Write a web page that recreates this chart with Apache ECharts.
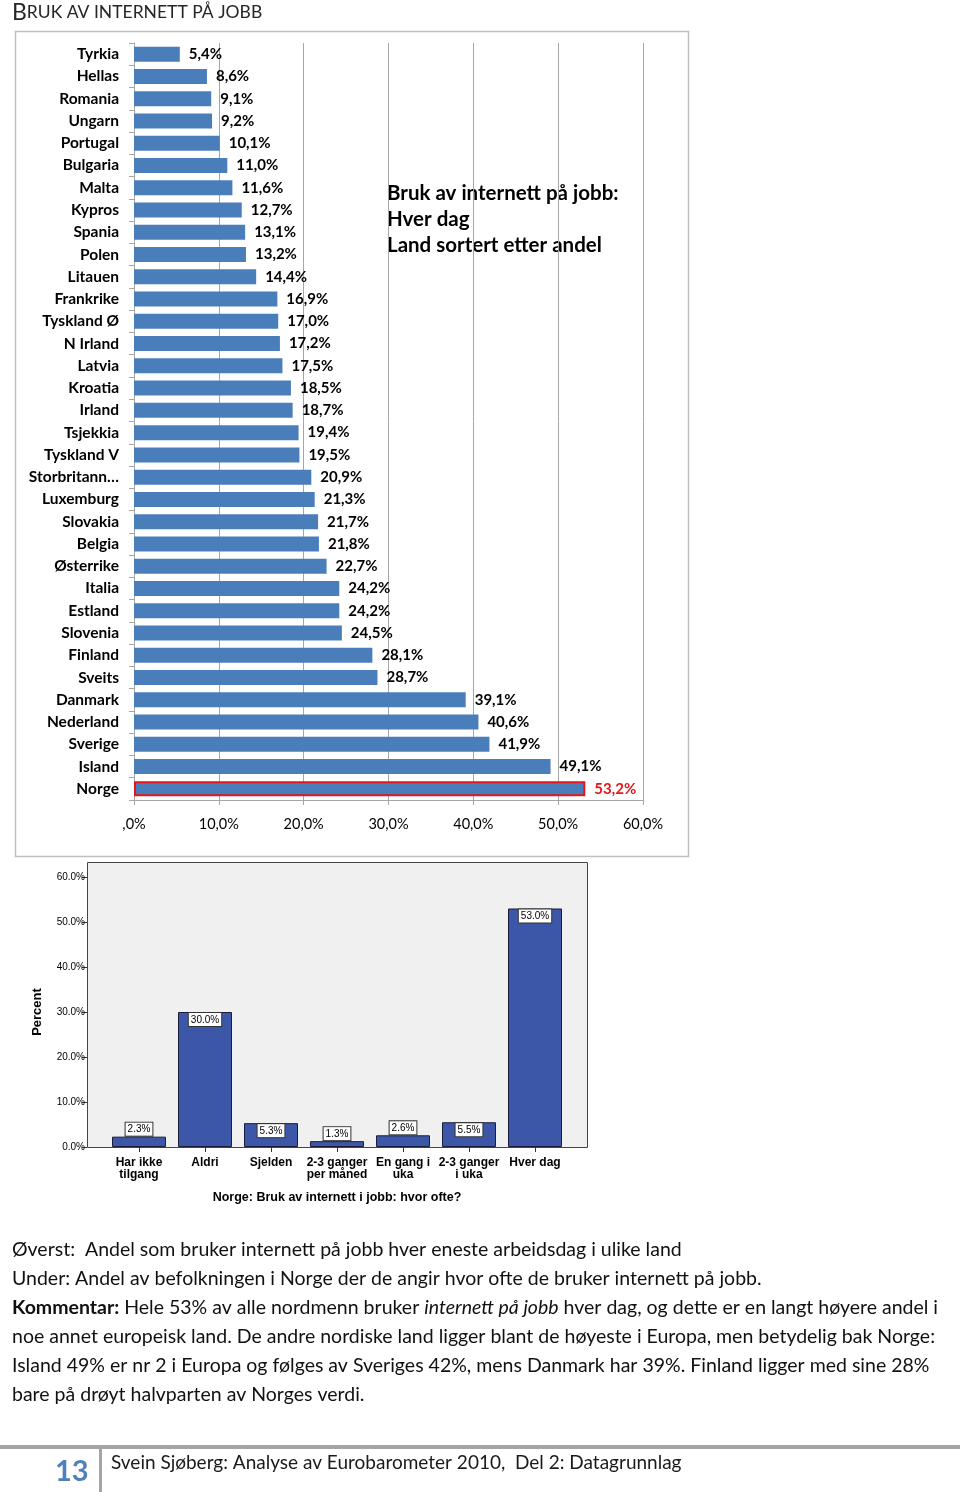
<!DOCTYPE html>
<html>
<head>
<meta charset="utf-8">
<script src="https://cdn.jsdelivr.net/npm/echarts@6/dist/echarts.min.js"></script>
<style>
html,body{margin:0;padding:0;background:#fff;}
#chart{width:960px;height:1492px;}
</style>
</head>
<body>
<div id="chart"></div>
<script>
// ---- Data ----
const countries = ['Tyrkia','Hellas','Romania','Ungarn','Portugal','Bulgaria','Malta','Kypros','Spania','Polen','Litauen','Frankrike','Tyskland Ø','N Irland','Latvia','Kroatia','Irland','Tsjekkia','Tyskland V','Storbritann…','Luxemburg','Slovakia','Belgia','Østerrike','Italia','Estland','Slovenia','Finland','Sveits','Danmark','Nederland','Sverige','Island','Norge'];
const dailyShare = [5.4,8.6,9.1,9.2,10.1,11.0,11.6,12.7,13.1,13.2,14.4,16.9,17.0,17.2,17.5,18.5,18.7,19.4,19.5,20.9,21.3,21.7,21.8,22.7,24.2,24.2,24.5,28.1,28.7,39.1,40.6,41.9,49.1,53.2];
const highlightCountry = 'Norge';

const freqCategories = ['Har ikke\ntilgang','Aldri','Sjelden','2-3 ganger\nper måned','En gang i\nuka','2-3 ganger\ni uka','Hver dag'];
const norwayFreq = [2.3,30.0,5.3,1.3,2.6,5.5,53.0];

const pageTitleFirst = 'B';
const pageTitleRest = 'RUK AV INTERNETT PÅ JOBB';
const chartNote = 'Bruk av internett på jobb:\nHver dag\nLand sortert etter andel';
const bottomAxisName = 'Norge: Bruk av internett i jobb: hvor ofte?';
const paragraphLines = [
  'Øverst:  Andel som bruker internett på jobb hver eneste arbeidsdag i ulike land',
  'Under: Andel av befolkningen i Norge der de angir hvor ofte de bruker internett på jobb.',
  '{b|Kommentar:} Hele 53% av alle nordmenn bruker {i|internett på jobb} hver dag, og dette er en langt høyere andel i',
  'noe annet europeisk land. De andre nordiske land ligger blant de høyeste i Europa, men betydelig bak Norge:',
  'Island 49% er nr 2 i Europa og følges av Sveriges 42%, mens Danmark har 39%. Finland ligger med sine 28%',
  'bare på drøyt halvparten av Norges verdi.'
];
const pageNumber = '13';
const footerText = 'Svein Sjøberg: Analyse av Eurobarometer 2010,  Del 2: Datagrunnlag';

// ---- Build ----
const F = 'Lato, "Open Sans", sans-serif';
const A = '"Liberation Sans", Arial, sans-serif';
const comma = v => v.toFixed(1).replace('.', ',') + '%';
const PF = 19.5;

const topData = dailyShare.map((v, i) => {
  if (countries[i] === highlightCountry) {
    return {value: v, itemStyle: {borderColor: '#e3161b', borderWidth: 2},
            label: {color: '#e3161b'}};
  }
  return v;
});
const bottomData = norwayFreq.map(v => ({
  value: v,
  label: v >= 5 ? {position: 'insideTop', distance: 1} : {position: 'top', distance: 1}
}));

const graphics = [
  {type: 'rect', z: -1, shape: {x: 15.5, y: 31.5, width: 673, height: 825},
   style: {fill: '#fff', stroke: '#c0c0c0', lineWidth: 1.5}},
  {type: 'rect', z: -1, shape: {x: 87.5, y: 862.5, width: 500, height: 285},
   style: {fill: '#f0f0f0', stroke: '#444', lineWidth: 1}},
  {type: 'text', left: 12, top: 1, style: {
    text: '{a|' + pageTitleFirst + '}{c|' + pageTitleRest + '}',
    rich: {a: {fontSize: 23, fontFamily: F, fill: '#262626'},
           c: {fontSize: 17.5, fontFamily: F, fill: '#262626'}}}},
  {type: 'text', left: 387, top: 180, style: {
    text: chartNote, font: 'bold 20.5px ' + F, fill: '#000', lineHeight: 26}},
  {type: 'rect', shape: {x: 0, y: 1445, width: 960, height: 4}, style: {fill: '#a5a5a5'}},
  {type: 'rect', shape: {x: 99, y: 1445, width: 3, height: 47}, style: {fill: '#a5a5a5'}},
  {type: 'text', left: 55, top: 1457, style: {text: pageNumber, font: 'bold 29px ' + F, fill: '#4f81bd'}},
  {type: 'text', left: 111, top: 1453, style: {text: footerText, font: '19px ' + F, fill: '#1a1a1a'}}
];
paragraphLines.forEach((t, i) => {
  graphics.push({type: 'text', left: 12, top: 1240 + i * 29, style: {
    text: t, font: PF + 'px ' + F, fill: '#111',
    rich: {b: {fontWeight: 'bold', fontSize: PF, fontFamily: F, fill: '#111'},
           i: {fontStyle: 'italic', fontSize: PF, fontFamily: F, fill: '#111'}}}});
});

const chart = echarts.init(document.getElementById('chart'), null, {renderer: 'canvas'});
chart.setOption({
  animation: false,
  backgroundColor: '#fff',
  graphic: graphics,
  grid: [
    {left: 134, right: 317, top: 43, bottom: 692},
    {left: 106, right: 392, top: 877, bottom: 345}
  ],
  xAxis: [
    {gridIndex: 0, type: 'value', min: 0, max: 60, interval: 10,
     axisLine: {show: true, lineStyle: {color: '#a6a6a6'}},
     axisTick: {show: true, length: 5, lineStyle: {color: '#a6a6a6'}},
     splitLine: {show: true, lineStyle: {color: '#a6a6a6', width: 1}},
     axisLabel: {formatter: v => v === 0 ? ',0%' : comma(v), margin: 17,
                 fontSize: 14.5, fontFamily: F, color: '#000'}},
    {gridIndex: 1, type: 'category', data: freqCategories,
     axisLine: {show: true, lineStyle: {color: '#444'}},
     axisTick: {show: true, alignWithLabel: true, length: 5, lineStyle: {color: '#333'}},
     axisLabel: {interval: 0, margin: 10, fontSize: 12, fontWeight: 'bold', fontFamily: A,
                 color: '#000', lineHeight: 12},
     name: bottomAxisName, nameLocation: 'middle', nameGap: 44,
     nameTextStyle: {fontSize: 12.5, fontWeight: 'bold', fontFamily: A, color: '#000'}}
  ],
  yAxis: [
    {gridIndex: 0, type: 'category', inverse: true, data: countries,
     axisLine: {show: true, lineStyle: {color: '#a6a6a6'}},
     axisTick: {show: true, length: 5, lineStyle: {color: '#a6a6a6'}},
     axisLabel: {margin: 15, fontSize: 15.5, fontWeight: 'bold', fontFamily: F, color: '#000'}},
    {gridIndex: 1, type: 'value', min: 0, max: 60, interval: 10, offset: 19,
     axisLine: {show: false},
     axisTick: {show: true, length: 5, lineStyle: {color: '#333'}},
     splitLine: {show: false},
     axisLabel: {formatter: v => v.toFixed(1) + '%', margin: 2, fontSize: 10,
                 fontFamily: A, color: '#000'},
     name: 'Percent', nameLocation: 'middle', nameGap: 43, nameRotate: 90,
     nameTextStyle: {fontSize: 13, fontWeight: 'bold', fontFamily: A, color: '#000'}}
  ],
  series: [
    {type: 'bar', xAxisIndex: 0, yAxisIndex: 0, data: topData, barWidth: 15,
     itemStyle: {color: '#4a7ebb'},
     label: {show: true, position: 'right', distance: 9, formatter: p => comma(p.value),
             fontSize: 15, fontWeight: 'bold', fontFamily: F, color: '#000'}},
    {type: 'bar', xAxisIndex: 1, yAxisIndex: 1, data: bottomData, barWidth: 54,
     itemStyle: {color: '#3d57a8', borderColor: '#1b1b3a', borderWidth: 1},
     label: {show: true, formatter: p => p.value.toFixed(1) + '%', backgroundColor: '#fff',
             borderColor: '#333', borderWidth: 1, padding: [2, 2, 1, 2],
             fontSize: 10, fontFamily: A, color: '#000'}}
  ]
});
</script>
</body>
</html>
